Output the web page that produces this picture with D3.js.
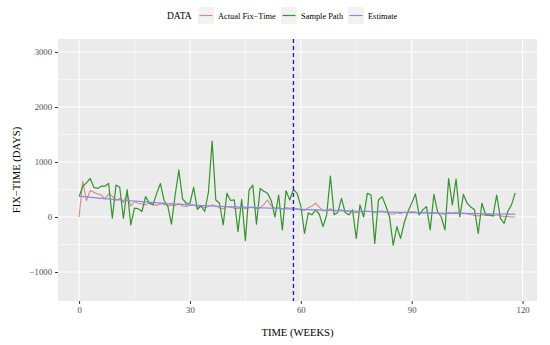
<!DOCTYPE html>
<html>
<head>
<meta charset="utf-8">
<script src="https://cdn.jsdelivr.net/npm/d3@7"></script>
<style>
  body { margin: 0; background: #fff; }
  svg { display: block; font-family: "Liberation Serif", "DejaVu Serif", serif; }
</style>
</head>
<body>
<script>
// values, one per week (0..118)
const samplePath = [
  370, 560, 620, 700, 540, 520, 560, 560, 610, -20,
  580, 540, -25, 500, -145, 160, 150, 100, 370, 250,
  220, 430, 610, 300, 200, -130, 400, 855, 330, 250,
  250, 540, 140, 200, 100, 450, 1380, 310, 250, -145,
  430, 300, 310, -265, 320, -430, 490, 580, -130, 520,
  470, 430, 300, 0, 400, -235, 480, 310, 500, 430,
  200, -300, 70, 40, 130, 50, -175, 40, 745, 40,
  80, 340, 80, 40, 130, -390, 220, 0, 430, 400,
  -480, 310, 370, 200, 0, -510, -175, -390, -100, 100,
  250, 420, 40, 130, 190, -235, 410, 100, 0, -235,
  700, 220, 690, 0, 410, 250, 180, 130, -300, 250,
  40, 40, 20, 400, -25, -115, 100, 220, 440
];

const actualFixTime = [
  0, 650, 300, 480, 450, 420, 400, 330, 420, 380,
  300, 340, 260, 420, 200, 280, 250, 240, 220, 260,
  230, 210, 240, 230, 200, 220, 210, 240, 200, 190,
  210, 220, 180, 200, 170, 190, 220, 200, 170, 150,
  190, 180, 160, 150, 180, 150, 170, 180, 150, 170,
  230, 310, 200, 160, 170, 140, 170, 160, 170, 150,
  130, 120, 170, 200, 250, 180, 110, 120, 150, 110,
  120, 130, 100, 110, 90, 80, 100, 90, 110, 100,
  80, 100, 110, 90, 60, 50, 80, 60, 90, 80,
  100, 90, 70, 80, 90, 70, 80, 70, 60, 50,
  80, 70, 90, 60, 70, 60, 40, 30, 20, 40,
  30, 30, 20, 40, 20, 10, 10, 0, 0
];

const estimateWeeks = [0, 6, 12, 18, 24, 30, 36, 42, 48, 54, 60, 66, 72, 78, 84, 90, 96, 102, 108, 114, 118];
const estimateValues = [380, 340, 305, 275, 245, 220, 200, 185, 170, 155, 140, 125, 110, 100, 90, 80, 72, 66, 60, 55, 52];

const cutoffWeek = 58;

const xTicks = [0, 30, 60, 90, 120];
const yTicks = [-1000, 0, 1000, 2000, 3000];
const xMinor = [15, 45, 75, 105];
const yMinor = [-500, 500, 1500, 2500];

const seriesNames = ["Actual Fix\u2212Time", "Sample Path", "Estimate"];
const seriesColors = ["#D98A7C", "#35922D", "#7D8CEE"];

const width = 550, height = 345;
const panel = { left: 58, right: 537, top: 39, bottom: 301 };

const x = d3.scaleLinear().domain([-5.7, 123.9]).range([panel.left, panel.right]);
const y = d3.scaleLinear().domain([-1527, 3236]).range([panel.bottom, panel.top]);

const svg = d3.select("body").append("svg")
  .attr("width", width)
  .attr("height", height);

// panel background
svg.append("rect")
  .attr("x", panel.left).attr("y", panel.top)
  .attr("width", panel.right - panel.left)
  .attr("height", panel.bottom - panel.top)
  .attr("fill", "#EBEBEB");

// grid
const grid = svg.append("g").attr("stroke", "#fff");
grid.selectAll(".vminor").data(xMinor).join("line")
  .attr("x1", d => x(d)).attr("x2", d => x(d))
  .attr("y1", panel.top).attr("y2", panel.bottom)
  .attr("stroke-width", 0.55);
grid.selectAll(".hminor").data(yMinor).join("line")
  .attr("y1", d => y(d)).attr("y2", d => y(d))
  .attr("x1", panel.left).attr("x2", panel.right)
  .attr("stroke-width", 0.55);
grid.selectAll(".vmajor").data(xTicks).join("line")
  .attr("x1", d => x(d)).attr("x2", d => x(d))
  .attr("y1", panel.top).attr("y2", panel.bottom)
  .attr("stroke-width", 1.1);
grid.selectAll(".hmajor").data(yTicks).join("line")
  .attr("y1", d => y(d)).attr("y2", d => y(d))
  .attr("x1", panel.left).attr("x2", panel.right)
  .attr("stroke-width", 1.1);

// lines
const line = d3.line().x(d => x(d[0])).y(d => y(d[1]));
const lines = svg.append("g").attr("fill", "none").attr("stroke-linejoin", "round");

lines.append("path")
  .attr("d", line(actualFixTime.map((v, i) => [i, v])))
  .attr("stroke", seriesColors[0])
  .attr("stroke-width", 1.1);

lines.append("path")
  .attr("d", line(samplePath.map((v, i) => [i, v])))
  .attr("stroke", seriesColors[1])
  .attr("stroke-width", 1.2);

lines.append("path")
  .attr("d", line(estimateWeeks.map((w, i) => [w, estimateValues[i]])))
  .attr("stroke", seriesColors[2])
  .attr("stroke-width", 1.2);

// cutoff
svg.append("line")
  .attr("x1", x(cutoffWeek)).attr("x2", x(cutoffWeek))
  .attr("y1", panel.top).attr("y2", panel.bottom)
  .attr("stroke", "#1A1AB4")
  .attr("stroke-width", 1.3)
  .attr("stroke-dasharray", "4,3");

// axes
const xAxis = svg.append("g")
  .attr("transform", `translate(0,${panel.bottom})`)
  .call(d3.axisBottom(x).tickValues(xTicks).tickFormat(d3.format("d")).tickSize(3).tickPadding(3));
const yAxis = svg.append("g")
  .attr("transform", `translate(${panel.left},0)`)
  .call(d3.axisLeft(y).tickValues(yTicks).tickFormat(d3.format("d")).tickSize(3).tickPadding(3));
[xAxis, yAxis].forEach(a => {
  a.select(".domain").remove();
  a.selectAll(".tick line").attr("stroke", "#333");
  a.selectAll("text").attr("fill", "#4D4D4D").style("font-size", "8.7px").style("font-family", "Liberation Serif, serif");
});

// axis titles
svg.append("text")
  .attr("x", (panel.left + panel.right) / 2).attr("y", 336)
  .attr("text-anchor", "middle")
  .style("font-size", "10.6px")
  .text("TIME (WEEKS)");

svg.append("text")
  .attr("transform", `translate(20,${(panel.top + panel.bottom) / 2}) rotate(-90)`)
  .attr("text-anchor", "middle")
  .style("font-size", "10.6px")
  .text("FIX\u2212TIME (DAYS)");

// legend
const legend = svg.append("g");
legend.append("text")
  .attr("x", 167).attr("y", 19)
  .style("font-size", "9.5px")
  .text("DATA");
const keyX = [198, 281, 348];
seriesNames.forEach((name, i) => {
  const g = legend.append("g").attr("transform", `translate(${keyX[i]},7)`);
  g.append("rect").attr("width", 16).attr("height", 17).attr("fill", "#F2F2F2");
  g.append("line").attr("x1", 1.5).attr("x2", 14.5).attr("y1", 8.5).attr("y2", 8.5)
    .attr("stroke", seriesColors[i]).attr("stroke-width", 1.2);
  g.append("text").attr("x", 20).attr("y", 11.5)
    .style("font-size", "8.4px")
    .text(name);
});
</script>
</body>
</html>
